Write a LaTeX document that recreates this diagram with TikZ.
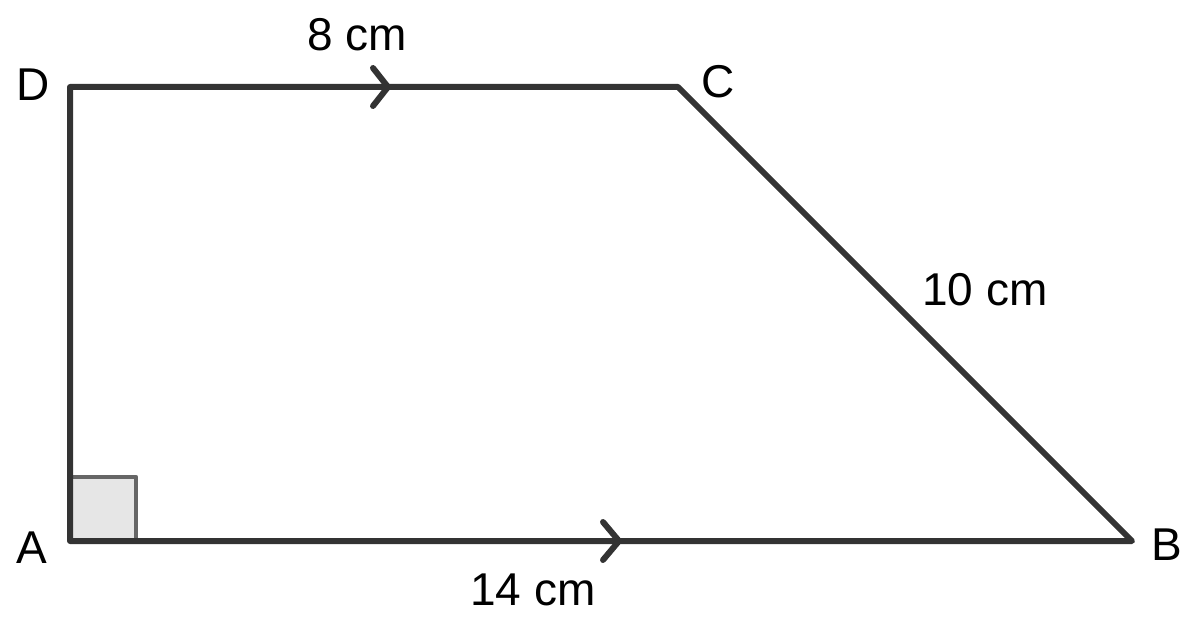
\documentclass[tikz,border=0pt]{standalone}
\usepackage{fontspec}
\setmainfont{Liberation Sans}
\usetikzlibrary{calc}
\definecolor{edgegray}{HTML}{333333}
\definecolor{boxfill}{HTML}{E6E6E6}
\definecolor{boxline}{HTML}{666666}
\begin{document}
\begin{tikzpicture}[x=1pt,y=-1pt,
  side/.style={draw=edgegray,line width=6pt,line cap=round,line join=round},
  chevron/.style={draw=edgegray,line width=6pt,line cap=round,line join=round},
  lbl/.style={anchor=base,inner sep=0pt,font=\fontsize{46}{55}\selectfont}]
\useasboundingbox (0,0) rectangle (1200,626);
\coordinate (A) at (70,541);
\coordinate (B) at (1132,541);
\coordinate (C) at (678,87);
\coordinate (D) at (70,87);
% right angle mark
\coordinate (R1) at (70,477);
\coordinate (R2) at (136,541);
\draw[fill=boxfill,draw=boxline,line width=4.5pt,line join=round] (A) rectangle (R1 -| R2);
% sides
\draw[side] (D) -- (C) -- (B) -- (A) -- cycle;
% parallel marks
\coordinate (m1) at (388,87);
\coordinate (m2) at (619,541);
\draw[chevron] ($(m1)+(-15,-19)$) -- (m1) -- ($(m1)+(-15,19)$);
\draw[chevron] ($(m2)+(-16,-19)$) -- (m2) -- ($(m2)+(-16,19)$);
% labels
\node[lbl] (lD) at (33,100) {D};
\node[lbl] (lC) at (718,97) {C};
\node[lbl] (lA) at (32,563) {A};
\node[lbl] (lB) at (1167,560) {B};
\node[lbl] (l8) at (357,51) {8 cm};
\node[lbl] (l10) at (985,305) {10 cm};
\node[lbl] (l14) at (533,605) {14 cm};
\end{tikzpicture}
\end{document}
